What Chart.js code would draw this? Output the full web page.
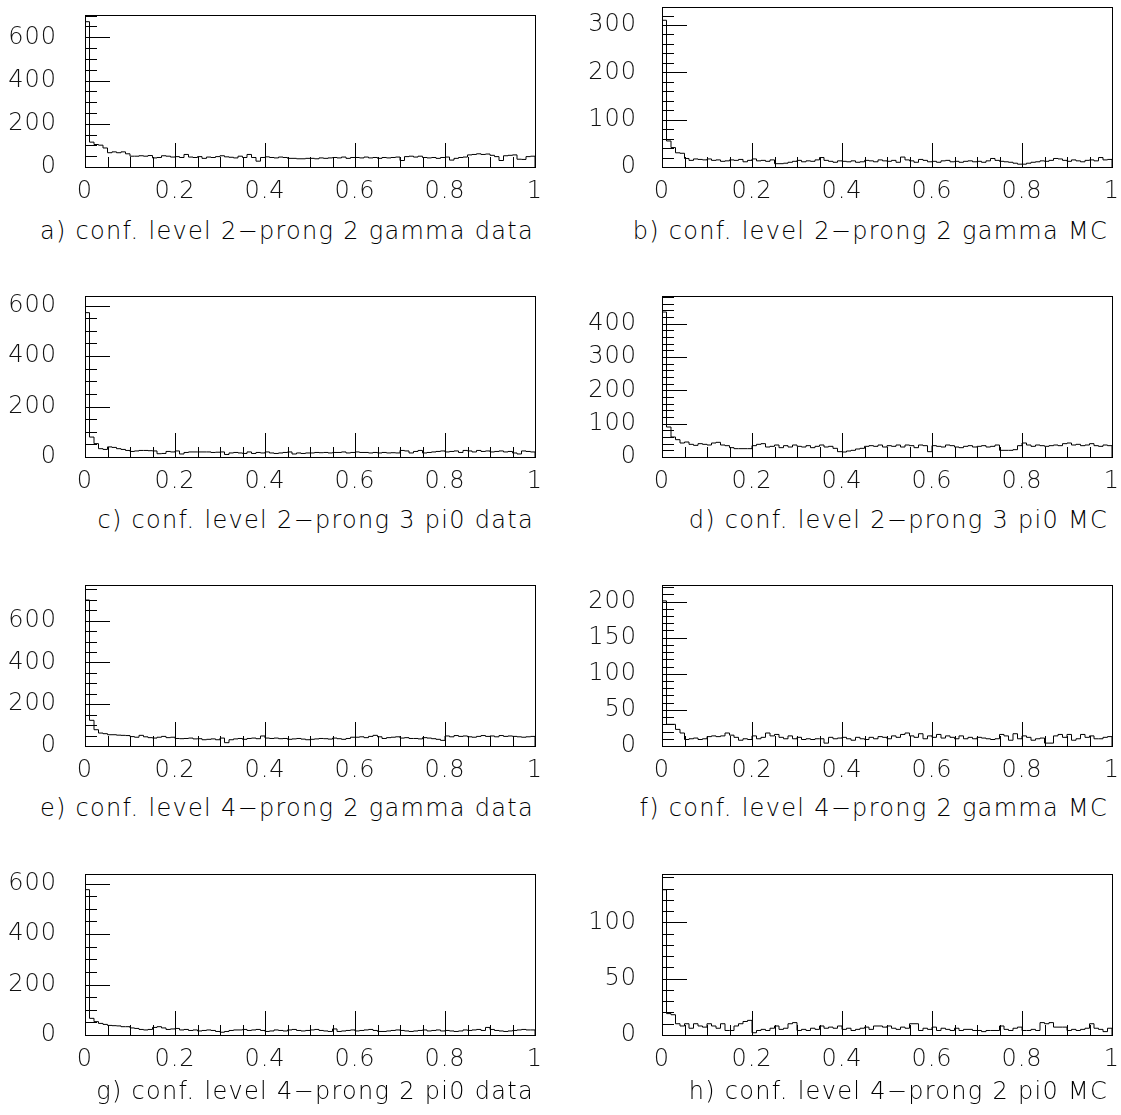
<!DOCTYPE html>
<html><head><meta charset="utf-8">
<script src="https://cdn.jsdelivr.net/npm/chart.js@4.4.0/dist/chart.umd.min.js"></script>
<style>
html,body{margin:0;padding:0;background:#fff;}
body{width:1121px;height:1115px;overflow:hidden;position:relative;}
canvas{position:absolute;}
.ttl{position:absolute;white-space:nowrap;text-align:right;font-family:'DejaVu Sans',sans-serif;font-weight:200;font-size:24px;letter-spacing:1.3px;color:#000;line-height:30px;}
</style></head><body>
<script>
// ---------- data ----------
const xTickValues = [0, 0.2, 0.4, 0.6, 0.8, 1];
const xTickLabels = ['0', '0.2', '0.4', '0.6', '0.8', '1'];
const binEdges = Array.from({length: 101}, (_, i) => i / 100);

const titleA = 'a) conf. level 2\u2212prong 2 gamma data';
const titleB = 'b) conf. level 2\u2212prong 2 gamma MC';
const titleC = 'c) conf. level 2\u2212prong 3 pi0 data';
const titleD = 'd) conf. level 2\u2212prong 3 pi0 MC';
const titleE = 'e) conf. level 4\u2212prong 2 gamma data';
const titleF = 'f) conf. level 4\u2212prong 2 gamma MC';
const titleG = 'g) conf. level 4\u2212prong 2 pi0 data';
const titleH = 'h) conf. level 4\u2212prong 2 pi0 MC';

const yTicksA = [0, 200, 400, 600];
const yTicksB = [0, 100, 200, 300];
const yTicksC = [0, 200, 400, 600];
const yTicksD = [0, 100, 200, 300, 400];
const yTicksE = [0, 200, 400, 600];
const yTicksF = [0, 50, 100, 150, 200];
const yTicksG = [0, 200, 400, 600];
const yTicksH = [0, 50, 100];

const yMaxA = 703, yMaxB = 338, yMaxC = 638, yMaxD = 483;
const yMaxE = 771, yMaxF = 223, yMaxG = 638, yMaxH = 143;
const yMinorA = 50, yMinorB = 20, yMinorC = 50, yMinorD = 20;
const yMinorE = 50, yMinorF = 10, yMinorG = 50, yMinorH = 10;

const valuesA = [672,115,104,101,88,66,70,66,70,61,
50,50,52,50,53,42,44,52,50,46,
48,44,58,46,44,48,40,46,44,48,
52,47,45,42,50,44,58,44,27,44,
47,44,42,46,44,40,40,38,38,40,
40,38,42,40,42,44,42,46,40,44,
44,42,46,42,44,40,44,42,44,46,
30,48,50,46,50,44,42,44,40,44,
46,32,40,44,46,56,58,61,58,60,
54,48,30,52,54,56,36,35,48,50];

const valuesB = [310,55,41,30,29,18,14,17,16,15,
17,14,15,12,13,15,14,16,11,14,
17,13,14,12,15,7,7,8,10,12,
14,11,13,12,15,20,14,12,10,13,
12,11,13,10,11,14,13,11,15,13,
12,14,10,21,15,13,10,16,14,11,
12,10,13,14,11,12,10,12,13,11,
12,10,13,18,14,12,11,10,8,6,
6,8,10,11,13,12,14,18,17,14,
12,15,13,11,14,15,13,20,15,16];

const valuesC = [572,79,53,33,30,40,38,33,30,26,
22,24,26,26,25,24,13,14,22,20,
24,12,18,20,20,20,20,20,18,19,
20,10,16,18,16,14,20,14,18,16,
20,16,14,16,18,20,12,16,14,16,
16,18,17,18,16,18,18,20,16,18,
20,18,18,16,18,16,18,16,17,16,
26,24,16,22,26,16,18,20,22,24,
20,22,24,18,26,24,20,26,22,24,
20,22,24,20,22,16,12,24,22,20];

const valuesD = [435,90,60,52,42,45,38,35,40,38,
36,42,44,36,34,28,25,25,25,25,
34,38,40,30,32,36,28,34,30,36,
32,30,34,28,32,36,30,32,26,16,
15,18,20,24,26,32,34,32,36,30,
34,32,36,30,36,34,28,36,34,16,
34,32,30,36,34,30,28,32,34,30,
32,34,30,32,36,20,20,20,22,34,
42,36,32,36,34,32,34,36,34,40,
42,36,38,34,36,40,34,32,36,34];

const valuesE = [699,123,78,62,59,54,54,52,51,50,
45,42,51,44,40,38,42,46,40,42,
36,35,36,38,34,35,30,32,34,30,
38,16,30,34,36,32,36,38,35,48,
38,36,38,35,36,32,34,36,33,30,
32,34,36,35,33,38,35,32,36,42,
42,44,40,46,51,44,36,40,42,44,
38,40,36,36,34,40,38,35,32,27,
48,44,50,46,48,44,42,46,50,46,
48,44,50,46,48,46,44,42,44,46];

const valuesF = [201,30,30,23,18,9,10,11,9,10,
13,14,13,14,18,15,12,8,10,9,
14,10,12,18,14,16,12,10,14,10,
12,9,10,9,10,10,4,12,10,11,
12,10,8,12,10,9,12,10,13,12,
10,14,12,16,18,14,12,17,10,14,
12,16,11,14,12,10,14,10,12,10,
12,11,10,9,10,16,14,8,17,10,
14,12,8,10,11,4,4,14,16,12,
16,8,10,16,12,14,10,10,12,13];

const valuesG = [576,66,53,46,42,38,37,36,33,33,
28,26,22,20,22,30,33,28,22,24,
26,20,22,18,20,16,18,20,18,14,
11,14,18,20,20,22,18,20,22,18,
14,16,20,18,16,20,22,18,16,18,
20,22,18,16,14,24,14,16,18,20,
16,18,20,22,18,14,14,16,18,20,
18,16,14,16,18,20,16,18,20,16,
18,16,14,16,20,18,20,22,18,30,
22,18,16,14,16,18,20,22,20,20];

const valuesH = [129,19,18,10,8,10,6,10,8,7,
10,8,6,10,4,4,8,10,12,13,
2,4,5,4,6,8,5,6,10,11,
4,5,4,6,5,8,6,7,6,8,
5,6,4,5,6,7,5,8,8,7,
8,6,5,7,6,10,10,4,6,5,
7,4,6,5,4,6,4,5,5,4,
4,3,4,4,4,8,5,4,6,7,
4,4,5,4,11,10,11,7,7,7,
4,5,4,5,6,10,6,5,3,6];

// ---------- layout (positions kept separate from data) ----------
const columns = [
  {canvasLeft: 0,   canvasWidth: 555, frameLeft: 85,  frameRight: 535, labelPad: 28, titleRight: 534},
  {canvasLeft: 560, canvasWidth: 561, frameLeft: 662, frameRight: 1112, labelPad: 25, titleRight: 1108}
];
const PAGE_W = 1121;
const TOP_PAD = 25, XAXIS_H = 45;

const panels = [
  {values: valuesA, yTicks: yTicksA, yMax: yMaxA, yMinor: yMinorA, title: titleA, col: 0, top: 15,  bottom: 167,  titleY: 231},
  {values: valuesB, yTicks: yTicksB, yMax: yMaxB, yMinor: yMinorB, title: titleB, col: 1, top: 7,   bottom: 167,  titleY: 231},
  {values: valuesC, yTicks: yTicksC, yMax: yMaxC, yMinor: yMinorC, title: titleC, col: 0, top: 296, bottom: 457,  titleY: 520},
  {values: valuesD, yTicks: yTicksD, yMax: yMaxD, yMinor: yMinorD, title: titleD, col: 1, top: 296, bottom: 457,  titleY: 520},
  {values: valuesE, yTicks: yTicksE, yMax: yMaxE, yMinor: yMinorE, title: titleE, col: 0, top: 585, bottom: 746,  titleY: 808},
  {values: valuesF, yTicks: yTicksF, yMax: yMaxF, yMinor: yMinorF, title: titleF, col: 1, top: 585, bottom: 746,  titleY: 808},
  {values: valuesG, yTicks: yTicksG, yMax: yMaxG, yMinor: yMinorG, title: titleG, col: 0, top: 874, bottom: 1035, titleY: 1091},
  {values: valuesH, yTicks: yTicksH, yMax: yMaxH, yMinor: yMinorH, title: titleH, col: 1, top: 874, bottom: 1035, titleY: 1091}
];

const tickFont = {family: "'DejaVu Sans', sans-serif", size: 24, weight: 200};
const INK = '#000';

const spacing = {
  id: 'spacing',
  beforeDraw(chart) { try { chart.ctx.letterSpacing = '1px'; } catch (e) {} },
  afterDraw(chart) { try { chart.ctx.letterSpacing = '0px'; } catch (e) {} }
};

const insideTicks = {
  id: 'insideTicks',
  afterDatasetsDraw(chart, args, o) {
    const {ctx, chartArea: ca, scales: {x, y}} = chart;
    ctx.save();
    ctx.strokeStyle = INK;
    ctx.lineWidth = 1;
    ctx.beginPath();
    const n = Math.floor(y.max / o.yMinor + 1e-9);
    for (let k = 1; k <= n; k++) {
      const v = k * o.yMinor;
      const py = Math.round(y.getPixelForValue(v)) + 0.5;
      const len = o.yMajor.includes(v) ? 25 : 12;
      ctx.moveTo(ca.left, py); ctx.lineTo(ca.left + len, py);
    }
    for (let k = 1; k < 20; k++) {
      const px = Math.round(x.getPixelForValue(k * 0.05)) + 0.5;
      const len = (k % 4 === 0) ? 24 : 10;
      ctx.moveTo(px, ca.bottom); ctx.lineTo(px, ca.bottom - len);
    }
    ctx.stroke();
    ctx.strokeRect(Math.round(ca.left) + 0.5, Math.round(ca.top) + 0.5,
                   Math.round(ca.right - ca.left), Math.round(ca.bottom - ca.top));
    ctx.restore();
  }
};

function stepPoints(vals) {
  const pts = [{x: 0, y: 0}];
  vals.forEach((v, i) => pts.push({x: binEdges[i], y: v}));
  pts.push({x: binEdges[vals.length], y: vals[vals.length - 1]});
  pts.push({x: binEdges[vals.length], y: 0});
  return pts;
}

function zeroPad(s) { s.paddingLeft = 0; s.paddingRight = 0; s.paddingTop = 0; s.paddingBottom = 0; }

panels.forEach(p => {
  const c = columns[p.col];
  const frameH = p.bottom - p.top;
  const cv = document.createElement('canvas');
  const h = TOP_PAD + frameH + XAXIS_H;
  cv.width = c.canvasWidth; cv.height = h;
  cv.style.width = c.canvasWidth + 'px'; cv.style.height = h + 'px';
  cv.style.left = c.canvasLeft + 'px';
  cv.style.top = (p.top - TOP_PAD) + 'px';
  document.body.appendChild(cv);

  const t = document.createElement('div');
  t.className = 'ttl';
  t.textContent = p.title;
  t.style.right = (PAGE_W - c.titleRight) + 'px';
  t.style.top = (p.titleY - 15) + 'px';
  document.body.appendChild(t);

  const yW = c.frameLeft - c.canvasLeft;
  const padR = c.canvasWidth - (c.frameRight - c.canvasLeft);

  new Chart(cv, {
    type: 'line',
    data: {datasets: [{
      data: stepPoints(p.values),
      stepped: 'before',
      borderColor: INK,
      borderWidth: 1,
      pointRadius: 0,
      fill: false
    }]},
    options: {
      responsive: false,
      animation: false,
      events: [],
      layout: {padding: {top: TOP_PAD, left: 0, right: padR, bottom: 0}},
      plugins: {
        legend: {display: false},
        tooltip: {enabled: false},
        insideTicks: {yMajor: p.yTicks, yMinor: p.yMinor}
      },
      scales: {
        x: {
          type: 'linear', min: 0, max: 1,
          grid: {display: false, drawTicks: false},
          border: {display: false},
          ticks: {autoSkip: false, maxRotation: 0, minRotation: 0, padding: 10,
                  font: tickFont, color: '#111',
                  callback: (v, i) => xTickLabels[i]},
          afterBuildTicks: s => { s.ticks = xTickValues.map(v => ({value: v})); },
          afterFit: s => { s.height = XAXIS_H; zeroPad(s); }
        },
        y: {
          type: 'linear', min: 0, max: p.yMax,
          grid: {display: false, drawTicks: false},
          border: {display: false},
          ticks: {autoSkip: false, padding: c.labelPad, font: tickFont, color: '#111',
                  callback: v => String(v)},
          afterBuildTicks: s => { s.ticks = p.yTicks.map(v => ({value: v})); },
          afterFit: s => { s.width = yW; zeroPad(s); }
        }
      }
    },
    plugins: [spacing, insideTicks]
  });
});
</script>
</body></html>
